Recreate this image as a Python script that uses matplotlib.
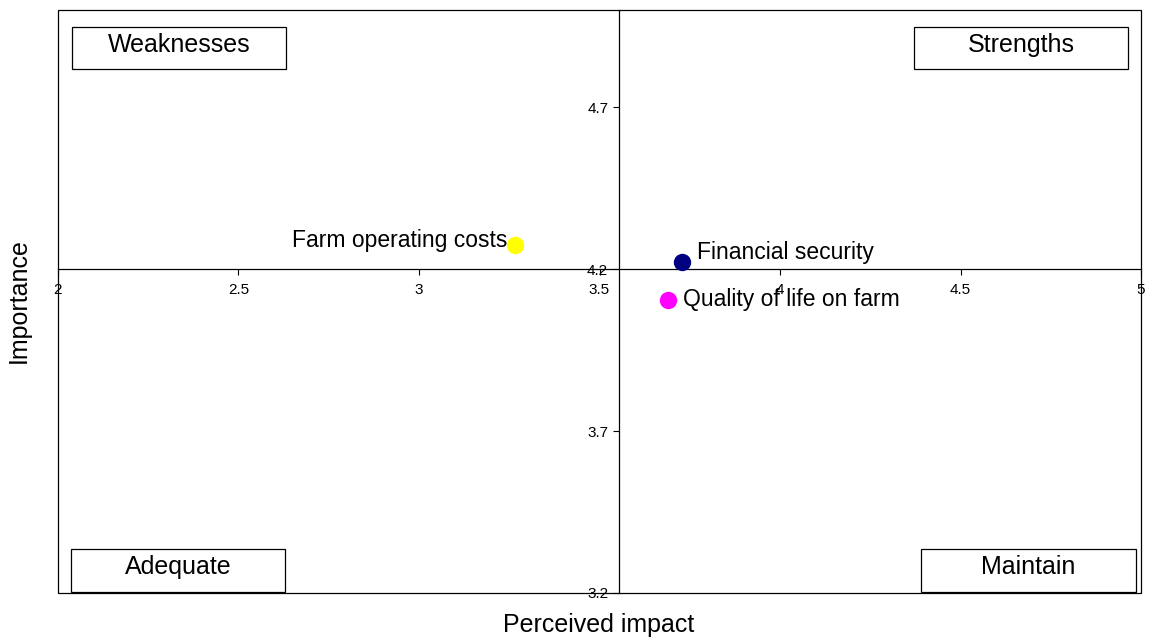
import matplotlib
matplotlib.use("Agg")
import matplotlib.pyplot as plt
from matplotlib.patches import Rectangle

plt.rcParams['font.family'] = ['Liberation Sans', 'DejaVu Sans']

# data
labels = ['Farm operating costs', 'Financial security', 'Quality of life on farm']
impact = [3.265, 3.728, 3.69]
importance = [4.276, 4.221, 4.106]
colors = ['#ffff00', '#000080', '#ff00ff']

x_cross = 3.555   # where the vertical axis crosses
y_cross = 4.2     # where the horizontal axis crosses
x_ticks = [2, 2.5, 3, 3.5, 4, 4.5, 5]
y_ticks = [3.2, 3.7, 4.2, 4.7]

quadrants = ['Weaknesses', 'Strengths', 'Adequate', 'Maintain']
# box position in axes fraction: x0, y0, w, h, text y
quad_boxes = [
    (0.013, 0.899, 0.198, 0.072, 0.940),
    (0.790, 0.899, 0.198, 0.072, 0.940),
    (0.012, 0.002, 0.198, 0.073, 0.045),
    (0.797, 0.002, 0.198, 0.073, 0.045),
]

fig = plt.figure(figsize=(11.52, 6.39), dpi=100)
ax = fig.add_axes([0.0503, 0.072, 0.9402, 0.912])

ax.set_xlim(2, 5)
ax.set_ylim(3.2, 5.0)

# axes crossing in the middle
ax.spines['left'].set_position(('data', x_cross))
ax.spines['bottom'].set_position(('data', y_cross))
ax.spines['right'].set_visible(False)
ax.spines['top'].set_visible(False)
for s in ['left', 'bottom']:
    ax.spines[s].set_linewidth(0.9)
    ax.spines[s].set_zorder(1)

# outer frame
ax.add_patch(Rectangle((0, 0), 1, 1, transform=ax.transAxes, fill=False,
                       lw=0.9, edgecolor='black', clip_on=False))

ax.set_xticks(x_ticks)
ax.set_xticklabels([f'{t:g}' for t in x_ticks])
ax.set_yticks(y_ticks)
ax.set_yticklabels([f'{t:g}' for t in y_ticks])
ax.tick_params(axis='both', labelsize=11, length=4, width=0.8)
ax.tick_params(axis='x', pad=6)
ax.tick_params(axis='y', pad=4)

# points
for xv, yv, c in zip(impact, importance, colors):
    ax.plot(xv, yv, 'o', color=c, markersize=11.5, zorder=3, clip_on=False)

ax.annotate(labels[0], (impact[0], importance[0]), xytext=(-5, 3),
            textcoords='offset points', ha='right', va='center', fontsize=16.5)
ax.annotate(labels[1], (impact[1], importance[1]), xytext=(11, 7),
            textcoords='offset points', ha='left', va='center', fontsize=16.5)
ax.annotate(labels[2], (impact[2], importance[2]), xytext=(11, 0),
            textcoords='offset points', ha='left', va='center', fontsize=16.5)

# quadrant boxes
for name, (x0, y0, w, h, ty) in zip(quadrants, quad_boxes):
    ax.add_patch(Rectangle((x0, y0), w, h, transform=ax.transAxes,
                           facecolor='white', edgecolor='black', lw=0.9, zorder=4))
    ax.text(x0 + w / 2, ty, name, transform=ax.transAxes, ha='center',
            va='center', fontsize=18, zorder=5)

fig.text(0.5195, 0.022, 'Perceived impact', ha='center', va='center', fontsize=18)
fig.text(0.016, 0.53, 'Importance', ha='center', va='center', rotation=90, fontsize=18)

fig.savefig('out.png', dpi=100)
